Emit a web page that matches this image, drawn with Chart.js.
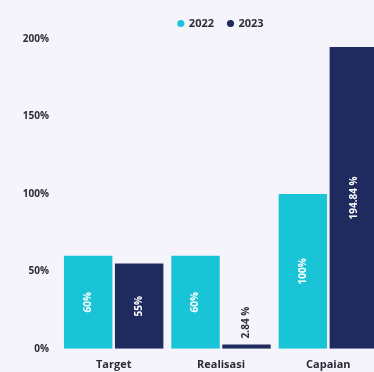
<!DOCTYPE html>
<html>
<head>
<meta charset="utf-8">
<script src="https://cdn.jsdelivr.net/npm/chart.js@4"></script>
<style>
  html, body { margin: 0; padding: 0; background: #f5f4fb; overflow: hidden; }
  #wrap { width: 382px; height: 372px; }
</style>
</head>
<body>
<div id="wrap"><canvas id="myChart"></canvas></div>
<script>
// capaian kinerja per tahun
const categories = ['Target', 'Realisasi', 'Capaian']
const years = ['2022', '2023']
const values2022 = [60, 60, 100]
const values2023 = [55, 2.84, 194.84]
const yTicks = [0, 50, 100, 150, 200]

const colors = ['#18c4d6', '#1f2a5e']
const fontFamily = '"Open Sans", sans-serif'

function fmt(v){
	if (Number.isInteger(v)) return v + '%'
	return v + ' %'
}

// angka di dalam batang, diputar vertikal
const barLabels = {
	id: 'barLabels',
	afterDatasetsDraw(chart){
		const ctx = chart.ctx
		ctx.save()
		ctx.font = 'bold 10px ' + fontFamily
		ctx.textBaseline = 'middle'
		chart.data.datasets.forEach((ds, i) => {
			chart.getDatasetMeta(i).data.forEach((bar, j) => {
				const text = fmt(ds.data[j])
				const w = ctx.measureText(text).width
				const h = bar.base - bar.y
				ctx.save()
				ctx.translate(bar.x, (bar.y + bar.base) / 2)
				ctx.rotate(-Math.PI / 2)
				if (h > w + 10){
					ctx.fillStyle = '#ffffff'
					ctx.textAlign = 'center'
					ctx.fillText(text, 0, 0)
				} else {
					// batang terlalu pendek, taruh di atasnya
					ctx.fillStyle = '#2b2b3a'
					ctx.textAlign = 'left'
					ctx.fillText(text, h / 2 + 6, 0)
				}
				ctx.restore()
			})
		})
		ctx.restore()
	}
}

// legend di tengah area grafik, bukan di tengah canvas
const legendCenter = {
	id: 'legendCenter',
	afterLayout(chart){
		const lg = chart.legend
		if (!lg) return
		lg.left = chart.chartArea.left
		lg.right = chart.chartArea.right
	}
}

let datasets = []
const series = [values2022, values2023]
for (let i = 0; i < years.length; i++){
	datasets.push({
		label: years[i],
		data: series[i],
		backgroundColor: colors[i],
		borderWidth: 0,
		categoryPercentage: 0.95,
		barPercentage: 0.95,
	})
}

new Chart(document.getElementById('myChart'), {
	type: 'bar',
	data: { labels: categories, datasets: datasets },
	options: {
		responsive: true,
		maintainAspectRatio: false,
		animation: false,
		layout: { padding: { top: 4, left: 0, right: 0, bottom: 0 } },
		plugins: {
			tooltip: { enabled: false },
			legend: {
				position: 'top',
				labels: {
					usePointStyle: true,
					pointStyle: 'circle',
					boxWidth: 5,
					boxHeight: 5,
					padding: 14,
					color: '#2b2b3a',
					font: { family: fontFamily, size: 11, weight: 'bold' },
				},
			},
		},
		scales: {
			x: {
				grid: { display: false },
				border: { display: false },
				ticks: {
					color: '#2b2b3a',
					padding: 1,
					font: { family: fontFamily, size: 11, weight: 'bold' },
				},
			},
			y: {
				min: 0,
				max: 200,
				afterFit(s){ s.width = 60 },
				afterBuildTicks(s){ s.ticks = yTicks.map(v => ({ value: v })) },
				grid: { display: false },
				border: { display: false },
				ticks: {
					color: '#2b2b3a',
					padding: 3,
					font: { family: fontFamily, size: 10, weight: 'bold' },
					callback: (v) => v + '%',
				},
			},
		},
	},
	plugins: [barLabels, legendCenter],
})
</script>
</body>
</html>
